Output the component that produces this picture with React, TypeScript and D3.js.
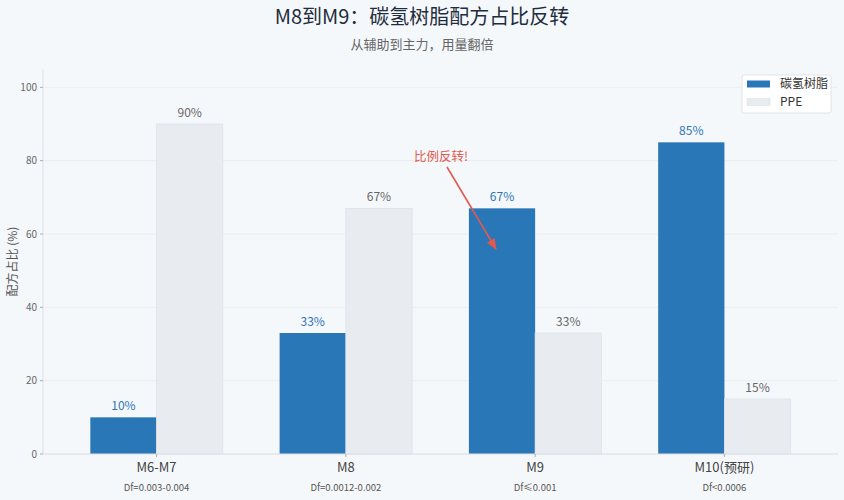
import React from "react";
import * as d3 from "d3";

const categories = ["M6-M7", "M8", "M9", "M10(预研)"];
const dfLabels = ["Df=0.003-0.004", "Df=0.0012-0.002", "Df≤0.001", "Df<0.0006"];
const hydrocarbon = [10, 33, 67, 85];
const ppe = [90, 67, 33, 15];
const yTicks = [0, 20, 40, 60, 80, 100];
const seriesNames = ["碳氢树脂", "PPE"];

const W = 844;
const H = 500;
const FONT = "'Noto Sans CJK SC', 'Noto Sans', sans-serif";
const BLUE = "#2a77b8";
const PPE_FILL = "#e8ecf0";
const PPE_EDGE = "#dde3e9";

export default function App() {
  const left = 43;
  const right = 838;
  const top = 69;
  const bottom = 454;
  const x = d3.scaleLinear().domain([-0.6, 3.6]).range([left, right]);
  const y = d3.scaleLinear().domain([0, 105]).range([bottom, top]);
  const bw = 0.35;

  return (
    <div style={{ position: "absolute", left: 0, top: 0 }}>
      <svg width={W} height={H} style={{ display: "block", fontFamily: FONT }}>
        <defs>
          <marker id="arrowHead" viewBox="0 0 10 10" refX="9" refY="5" markerWidth="7" markerHeight="7" orient="auto-start-reverse">
            <path d="M0,1 L10,5 L0,9 z" fill="#e05a4f" />
          </marker>
        </defs>
        <rect x={0} y={0} width={W} height={H} fill="#f5f8fb" />

        <text x={422} y={24} textAnchor="middle" fontSize={20} fill="#1f2d3d">
          M8到M9：碳氢树脂配方占比反转
        </text>
        <text x={422} y={49} textAnchor="middle" fontSize={13} fill="#666">
          从辅助到主力，用量翻倍
        </text>

        {/* grid */}
        {yTicks.map((t) => (
          <line key={"g" + t} x1={left} x2={right} y1={y(t)} y2={y(t)} stroke="#e6ebf0" strokeWidth={0.8} />
        ))}

        {/* bars */}
        {categories.map((c, i) => (
          <g key={c}>
            <rect
              x={x(i - bw)}
              y={y(hydrocarbon[i])}
              width={x(i) - x(i - bw)}
              height={y(0) - y(hydrocarbon[i])}
              fill={BLUE}
            />
            <rect
              x={x(i)}
              y={y(ppe[i])}
              width={x(i + bw) - x(i)}
              height={y(0) - y(ppe[i])}
              fill={PPE_FILL}
              stroke={PPE_EDGE}
              strokeWidth={0.8}
            />
            <text x={x(i - bw / 2)} y={y(hydrocarbon[i]) - 7} textAnchor="middle" fontSize={12} fill="#2e75b6">
              {hydrocarbon[i]}%
            </text>
            <text x={x(i + bw / 2)} y={y(ppe[i]) - 7} textAnchor="middle" fontSize={12} fill="#666">
              {ppe[i]}%
            </text>
          </g>
        ))}

        {/* axes */}
        <line x1={left} x2={left} y1={top} y2={bottom} stroke="#dde2e8" strokeWidth={1} />
        <line x1={left} x2={right} y1={bottom} y2={bottom} stroke="#dde2e8" strokeWidth={1} />
        {yTicks.map((t) => (
          <g key={"t" + t}>
            <line x1={left - 3} x2={left} y1={y(t)} y2={y(t)} stroke="#999" strokeWidth={0.8} />
            <text x={left - 6} y={y(t)} dy="0.35em" textAnchor="end" fontSize={10} fill="#666">
              {t}
            </text>
          </g>
        ))}
        {categories.map((c, i) => (
          <g key={"x" + c}>
            <line x1={x(i)} x2={x(i)} y1={bottom} y2={bottom + 3} stroke="#999" strokeWidth={0.8} />
            <text x={x(i)} y={467} dy="0.35em" textAnchor="middle" fontSize={13} fill="#444">
              {c}
            </text>
            <text x={x(i)} y={488} dy="0.35em" textAnchor="middle" fontSize={9.5} fill="#555">
              {dfLabels[i]}
            </text>
          </g>
        ))}

        <text
          transform={`translate(13, ${(top + bottom) / 2}) rotate(-90)`}
          textAnchor="middle"
          dy="0.35em"
          fontSize={12}
          fill="#555"
        >
          配方占比 (%)
        </text>

        {/* annotation */}
        <text x={441} y={157} dy="0.35em" textAnchor="middle" fontSize={12.5} fill="#e05a4f">
          比例反转!
        </text>
        <line x1={447} y1={167} x2={496} y2={249} stroke="#e05a4f" strokeWidth={1.6} markerEnd="url(#arrowHead)" />

        {/* legend */}
        <rect x={742} y={75} width={89} height={38} rx={2} fill="#ffffff" stroke="#d8dde3" strokeWidth={0.8} />
        <rect x={747} y={80.5} width={23} height={7} fill={BLUE} />
        <rect x={747} y={98.5} width={23} height={7} fill={PPE_FILL} stroke={PPE_EDGE} strokeWidth={0.6} />
        <text x={780} y={84} dy="0.35em" fontSize={12} fill="#333">
          {seriesNames[0]}
        </text>
        <text x={780} y={102} dy="0.35em" fontSize={12} fill="#333">
          {seriesNames[1]}
        </text>
      </svg>
    </div>
  );
}
